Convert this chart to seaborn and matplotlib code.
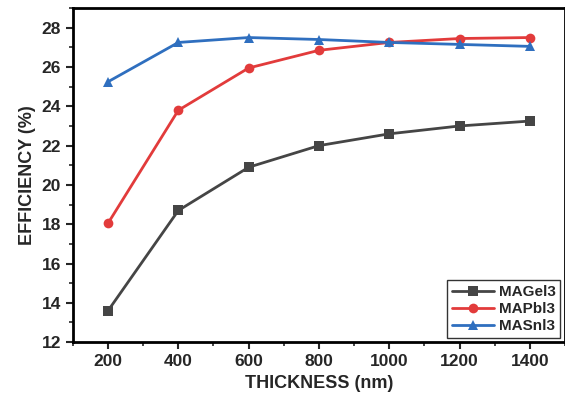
import matplotlib
matplotlib.use("Agg")
import matplotlib.pyplot as plt
import seaborn as sns
import pandas as pd
from matplotlib.ticker import MultipleLocator

thickness = [200, 400, 600, 800, 1000, 1200, 1400]
mageI3 = [13.6, 18.7, 20.9, 22.0, 22.6, 23.0, 23.25]
mapbI3 = [18.05, 23.8, 25.95, 26.85, 27.25, 27.45, 27.5]
masnI3 = [25.25, 27.25, 27.5, 27.4, 27.25, 27.15, 27.05]
series_names = ["MAGeI3", "MAPbI3", "MASnI3"]
legend_labels = ["MAGel3", "MAPbl3", "MASnl3"]

sns.set_style("ticks")
plt.rcParams['font.family'] = ['Liberation Sans', 'DejaVu Sans']

df = pd.DataFrame({
    "thickness": thickness * 3,
    "eff": mageI3 + mapbI3 + masnI3,
    "material": sum([[n] * len(thickness) for n in series_names], []),
})

fig = plt.figure(figsize=(5.65, 4.03), dpi=100)
ax = fig.add_axes([0.129, 0.151, 0.871, 0.829])

palette = {"MAGeI3": "#454545", "MAPbI3": "#e23b3b", "MASnI3": "#2f6fbf"}
markers = {"MAGeI3": "s", "MAPbI3": "o", "MASnI3": "^"}
sns.lineplot(data=df, x="thickness", y="eff", hue="material", style="material",
             palette=palette, markers=markers, dashes=False, linewidth=2,
             markersize=7, markeredgewidth=0, ax=ax)

ax.set_xlim(100, 1500)
ax.set_ylim(12, 29)
ax.xaxis.set_major_locator(MultipleLocator(200))
ax.xaxis.set_minor_locator(MultipleLocator(100))
ax.yaxis.set_major_locator(MultipleLocator(2))
ax.yaxis.set_minor_locator(MultipleLocator(1))
ax.tick_params(which="major", direction="out", length=5, width=1.5, labelsize=12.5)
ax.tick_params(which="minor", direction="out", length=3, width=1.2)
for lab in ax.get_xticklabels() + ax.get_yticklabels():
    lab.set_fontweight("bold")
for s in ax.spines.values():
    s.set_linewidth(2)
    s.set_color("black")

ax.set_xlabel("THICKNESS (nm)", fontsize=13, fontweight="bold")
ax.set_ylabel("EFFICIENCY (%)", fontsize=13, fontweight="bold")

handles, _ = ax.get_legend_handles_labels()
leg = ax.legend(handles[-3:] if len(handles) > 3 else handles, legend_labels,
                loc="lower right", frameon=True, fancybox=False, edgecolor="black",
                prop={"weight": "bold", "size": 11}, handlelength=2.8,
                borderpad=0.3, labelspacing=0.2, handletextpad=0.3,
                borderaxespad=0.3)
leg.get_frame().set_linewidth(1)

fig.savefig("out.png", dpi=100)
